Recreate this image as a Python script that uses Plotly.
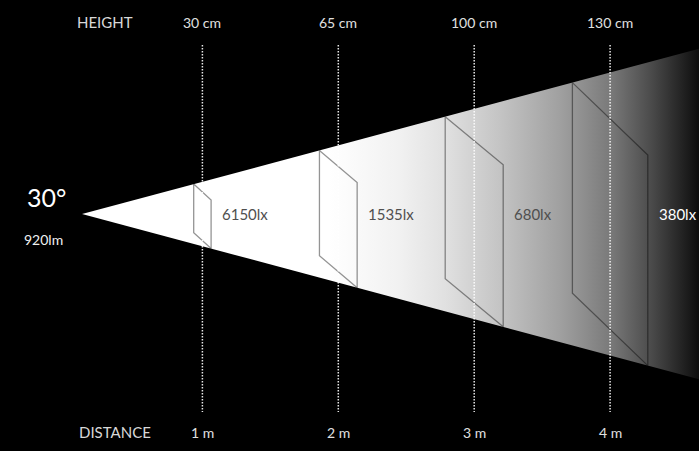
import math
import plotly.graph_objects as go

# ---- data ----
distances_m = [1, 2, 3, 4]
heights_cm = [30, 65, 100, 130]
lux_values = [6150, 1535, 680, 380]
beam_angle_deg = 30
lumens = 920
distance_labels = [f"{d} m" for d in distances_m]
height_labels = [f"{h} cm" for h in heights_cm]
lux_labels = [f"{v}lx" for v in lux_values]

# ---- layout constants (pixel geometry of the diagram) ----
W, H = 699, 451
PX_PER_M = 135.9          # horizontal scale
PX_PER_CM = 1.62          # vertical scale
X0_PX = 66.5              # pixel of 0 m
Y0_PX = 214.0             # pixel of beam axis
APEX_PX = 82.0
PANEL_SKEW = 0.58         # px of horizontal skew per cm of panel height

x_range = [-X0_PX / PX_PER_M, (W - X0_PX) / PX_PER_M]
y_range = [-(H - Y0_PX) / PX_PER_CM, Y0_PX / PX_PER_CM]
apex = (APEX_PX - X0_PX) / PX_PER_M
slope = math.tan(math.radians(beam_angle_deg / 2)) * PX_PER_M / PX_PER_CM  # cm per m


def top(x):
    return (x - apex) * slope


def bot(x):
    return -(x - apex) * slope


x_end = x_range[1] + 0.05

fig = go.Figure()

# beam cone with horizontal gradient
fig.add_trace(go.Scatter(
    x=[apex, x_end, x_end, apex],
    y=[0, top(x_end), bot(x_end), 0],
    mode="lines", line=dict(width=0), fill="toself",
    fillgradient=dict(
        type="horizontal", start=apex, stop=x_range[1],
        colorscale=[
            [0.0, "#ffffff"], [0.40, "#ffffff"], [0.515, "#f1f1f1"],
            [0.59, "#e0e0e0"], [0.677, "#c4c4c4"], [0.775, "#a0a0a0"],
            [0.856, "#7a7a7a"], [0.921, "#4c4c4c"], [1.0, "#0d0d0d"],
        ]),
    hoverinfo="skip", showlegend=False,
))

# panels (illuminated areas)
for d, h in zip(distances_m, heights_cm):
    dx = PANEL_SKEW * h / PX_PER_M
    xl, xr = d - dx / 2, d + dx / 2
    lt = top(xl)
    rb = bot(xr)
    fig.add_trace(go.Scatter(
        x=[xl, xr, xr, xl, xl],
        y=[lt, rb + h, rb, lt - h, lt],
        mode="lines", line=dict(color="rgba(0,0,0,0.42)", width=1.3),
        hoverinfo="skip", showlegend=False,
    ))

# dotted guide lines
y_dot_top = (Y0_PX - 45) / PX_PER_CM
y_dot_bot = (Y0_PX - 412) / PX_PER_CM
for d in distances_m:
    fig.add_trace(go.Scatter(
        x=[d, d], y=[y_dot_top, y_dot_bot], mode="lines",
        line=dict(color="rgba(255,255,255,0.9)", width=1.5, dash="1.5px,1.5px"),
        hoverinfo="skip", showlegend=False,
    ))

FONT = "Lato, 'Open Sans', sans-serif"
ann = []
y_head = (Y0_PX - 22) / PX_PER_CM
y_foot = (Y0_PX - 432) / PX_PER_CM
ann.append(dict(x=(105 - X0_PX) / PX_PER_M, y=y_head, text="HEIGHT",
                font=dict(size=15, color="#d8d8d8")))
ann.append(dict(x=(115 - X0_PX) / PX_PER_M, y=y_foot, text="DISTANCE",
                font=dict(size=15, color="#d8d8d8")))
for d, hl, dl in zip(distances_m, height_labels, distance_labels):
    ann.append(dict(x=d, y=y_head, text=hl, font=dict(size=14, color="#e0e0e0")))
    ann.append(dict(x=d, y=y_foot, text=dl, font=dict(size=14, color="#e0e0e0")))
for i, (d, h, lt) in enumerate(zip(distances_m, heights_cm, lux_labels)):
    dx = PANEL_SKEW * h / PX_PER_M
    xr = d + dx / 2
    col = "#ffffff" if i == len(distances_m) - 1 else "#4f4f4f"
    ann.append(dict(x=xr + 9 / PX_PER_M, y=0, text=lt, xanchor="left",
                    font=dict(size=15, color=col)))
ann.append(dict(x=(46 - X0_PX) / PX_PER_M, y=(Y0_PX - 197) / PX_PER_CM,
                text=f"{beam_angle_deg}°", font=dict(size=25, color="#ffffff")))
ann.append(dict(x=(43 - X0_PX) / PX_PER_M, y=(Y0_PX - 239) / PX_PER_CM,
                text=f"{lumens}lm", font=dict(size=14, color="#f0f0f0")))
for a in ann:
    a.setdefault("xanchor", "center")
    a.update(yanchor="middle", showarrow=False, xref="x", yref="y")
    a["font"]["family"] = FONT

fig.update_layout(
    width=W, height=H, margin=dict(l=0, r=0, t=0, b=0),
    paper_bgcolor="#000000", plot_bgcolor="#000000",
    xaxis=dict(range=x_range, visible=False, fixedrange=True),
    yaxis=dict(range=y_range, visible=False, fixedrange=True),
    annotations=ann, showlegend=False, font=dict(family=FONT),
)

fig.write_html(
    "out.html",
    config={"displayModeBar": False},
    post_script="document.body.style.margin='0';document.body.style.background='#000';",
)
